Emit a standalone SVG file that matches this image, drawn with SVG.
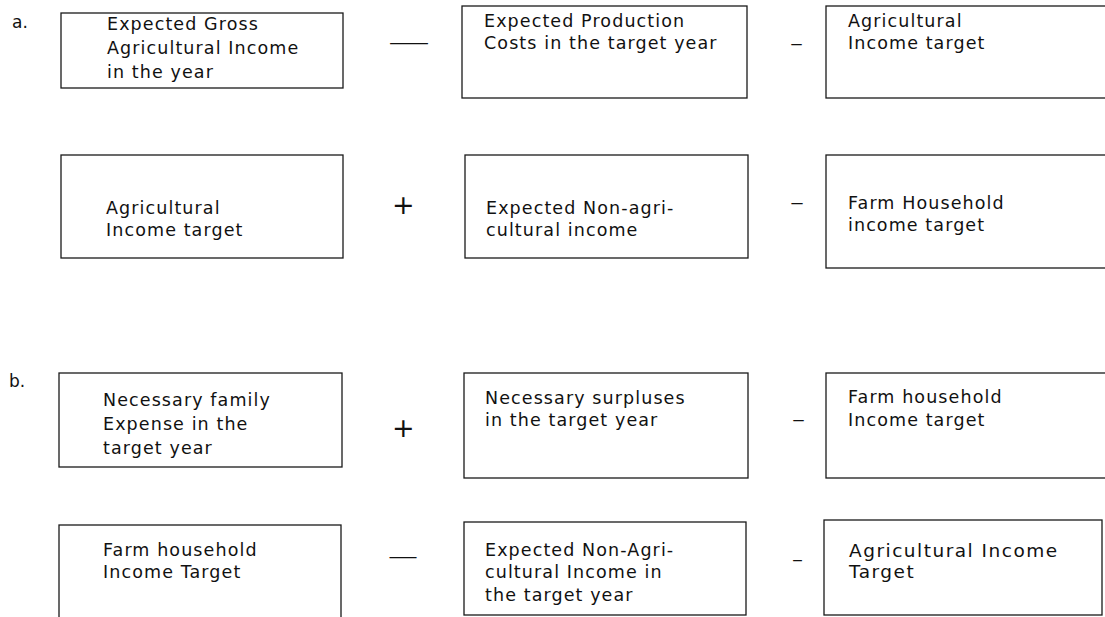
<svg xmlns="http://www.w3.org/2000/svg" width="1105" height="617" viewBox="0 0 1105 617">
  <style>
    .box { fill: none; stroke: #1a1a1a; stroke-width: 1.3; }
    .t { font-family: "DejaVu Sans", "Liberation Sans", sans-serif; font-size: 17.5px; letter-spacing: 1.1px; fill: #111; }
    .wide { font-size: 18.5px; letter-spacing: 1.5px; }
    .lbl { font-family: "DejaVu Sans", "Liberation Sans", sans-serif; font-size: 17px; fill: #111; }
    .op { font-family: "DejaVu Sans", "Liberation Sans", sans-serif; font-size: 20px; fill: #111; }
    .plus { font-family: "DejaVu Sans", "Liberation Sans", sans-serif; font-size: 27px; fill: #111; }
  </style>
  <rect width="1105" height="617" fill="#ffffff"/>

  <!-- section labels -->
  <text class="lbl" x="12" y="28">a.</text>
  <text class="lbl" x="9" y="387">b.</text>

  <!-- a, first equation -->
  <g id="a1-gross-income">
    <rect class="box" x="61" y="13" width="282" height="75"/>
    <text class="t" x="107" y="30">Expected Gross</text>
    <text class="t" x="107" y="54">Agricultural Income</text>
    <text class="t" x="107" y="78">in the  year</text>
  </g>
  <g id="a1-production-costs">
    <rect class="box" x="462" y="6" width="285" height="92"/>
    <text class="t" x="484" y="27">Expected Production</text>
    <text class="t" x="484" y="49">Costs in the target year</text>
  </g>
  <g id="a1-agri-target">
    <rect class="box" x="826" y="6" width="320" height="92"/>
    <text class="t" x="848" y="27">Agricultural</text>
    <text class="t" x="848" y="49">Income target</text>
  </g>

  <!-- a, second equation -->
  <g id="a2-agri-target">
    <rect class="box" x="61" y="155" width="282" height="103"/>
    <text class="t" x="106" y="214">Agricultural</text>
    <text class="t" x="106" y="236">Income target</text>
  </g>
  <g id="a2-non-agri-income">
    <rect class="box" x="465" y="155" width="283" height="103"/>
    <text class="t" x="486" y="214">Expected Non-agri-</text>
    <text class="t" x="486" y="236">cultural income</text>
  </g>
  <g id="a2-household-target">
    <rect class="box" x="826" y="155" width="320" height="113"/>
    <text class="t" x="848" y="209">Farm Household</text>
    <text class="t" x="848" y="231">income target</text>
  </g>

  <!-- b, first equation -->
  <g id="b1-family-expense">
    <rect class="box" x="59" y="373" width="283" height="94"/>
    <text class="t" x="103" y="406">Necessary family</text>
    <text class="t" x="103" y="430">Expense in the</text>
    <text class="t" x="103" y="454">target year</text>
  </g>
  <g id="b1-surpluses">
    <rect class="box" x="464" y="373" width="284" height="105"/>
    <text class="t" x="485" y="404">Necessary surpluses</text>
    <text class="t" x="485" y="426">in the target year</text>
  </g>
  <g id="b1-household-target">
    <rect class="box" x="826" y="373" width="320" height="105"/>
    <text class="t" x="848" y="403">Farm household</text>
    <text class="t" x="848" y="426">Income target</text>
  </g>

  <!-- b, second equation -->
  <g id="b2-household-target">
    <rect class="box" x="59" y="525" width="282" height="140"/>
    <text class="t" x="103" y="556">Farm household</text>
    <text class="t" x="103" y="578">Income Target</text>
  </g>
  <g id="b2-non-agri-income">
    <rect class="box" x="464" y="522" width="282" height="93"/>
    <text class="t" x="485" y="556">Expected Non-Agri-</text>
    <text class="t" x="485" y="578">cultural Income in</text>
    <text class="t" x="485" y="601">the target year</text>
  </g>
  <g id="b2-agri-target">
    <rect class="box" x="824" y="520" width="278" height="95"/>
    <text class="t wide" x="849" y="557">Agricultural  Income</text>
    <text class="t wide" x="849" y="578">Target</text>
  </g>

  <!-- operators between the boxes -->
  <g id="operators">
    <text class="op" x="388" y="49" textLength="42" lengthAdjust="spacingAndGlyphs">—</text>
    <text class="op" x="790" y="50" textLength="13" lengthAdjust="spacingAndGlyphs">–</text>
    <text class="plus" x="392" y="214">+</text>
    <text class="op" x="790" y="209" textLength="14" lengthAdjust="spacingAndGlyphs">–</text>
    <text class="plus" x="392" y="437">+</text>
    <text class="op" x="792" y="426" textLength="13" lengthAdjust="spacingAndGlyphs">–</text>
    <text class="op" x="388" y="563" textLength="30" lengthAdjust="spacingAndGlyphs">—</text>
    <text class="op" x="792" y="566" textLength="11" lengthAdjust="spacingAndGlyphs">–</text>
  </g>
</svg>
